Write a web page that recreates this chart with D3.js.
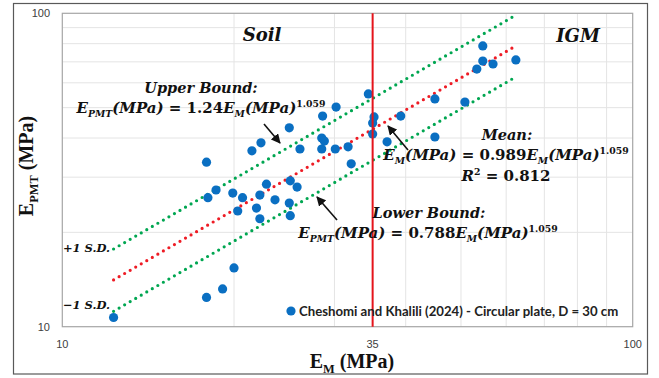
<!DOCTYPE html>
<html>
<head>
<meta charset="utf-8">
<script src="https://cdn.jsdelivr.net/npm/d3@7"></script>
<style>
  html, body { margin: 0; padding: 0; background: #fff; }
  svg { display: block; }
</style>
</head>
<body>
<div id="chart"></div>
<script>
// measured points: E_M (MPa) vs E_PMT (MPa)
const emValues = [12.3, 17.9, 19.1, 20.0, 17.9, 21.5, 22.3, 25.0, 26.1, 28.6,
  30.2, 34.4, 35.2, 35.0, 35.0, 28.5, 28.8, 28.5, 30.1, 31.7,
  32.1, 18.0, 18.6, 19.9, 20.7, 20.3, 22.2, 22.8, 23.6, 21.9,
  22.2, 25.1, 25.8, 25.0, 25.1, 54.6, 54.6, 56.9, 53.3, 62.4,
  45.0, 50.8, 37.1, 39.2, 45.0];
const epmtValues = [10.7, 12.4, 13.2, 15.4, 33.5, 36.4, 38.6, 43.1, 36.9, 47.0,
  50.2, 55.3, 46.7, 44.7, 41.2, 40.0, 39.1, 36.9, 36.9, 37.5,
  33.1, 25.8, 27.3, 26.7, 25.8, 23.4, 26.3, 28.5, 25.4, 23.9,
  22.1, 29.2, 27.9, 24.8, 22.6, 78.7, 70.4, 68.9, 66.4, 71.0,
  53.3, 52.1, 38.9, 47.0, 40.3];

// fit lines (power law => straight in log-log), end points
const fitNames = ["upper", "mean", "lower"];
const fitColors = ["#00a651", "#ee1c25", "#00a651"];
const fitX = [12.3, 62.4];
const fitStartY = [17.7, 14.1, 11.2];
const fitEndY = [98.7, 78.7, 62.7];

const boundaryX = 35;
const xTicks = [10, 35, 100];
const yTicks = [10, 100];
const gridVals = [20, 30, 40, 50, 60, 70, 80, 90];

const w = 659, h = 378;
const pLeft = 62.3, pRight = 632.7, pTop = 13.3, pBottom = 326.7;

const svg = d3.select("#chart").append("svg")
  .attr("width", w).attr("height", h);

const x = d3.scaleLog().domain([10, 100]).range([pLeft, pRight]);
const y = d3.scaleLog().domain([10, 100]).range([pBottom, pTop]);

// outer frame
svg.append("rect")
  .attr("x", 13.5).attr("y", 3.5).attr("width", 634).attr("height", 370.5)
  .attr("fill", "#fff").attr("stroke", "#595959").attr("stroke-width", 1.2);

// grid
const grid = svg.append("g");
grid.selectAll(".gx").data(gridVals).join("line")
  .attr("x1", d => x(d)).attr("x2", d => x(d))
  .attr("y1", pTop).attr("y2", pBottom)
  .attr("stroke", "#e4e4e4").attr("stroke-width", 1);
grid.selectAll(".gy").data(gridVals).join("line")
  .attr("y1", d => y(d)).attr("y2", d => y(d))
  .attr("x1", pLeft).attr("x2", pRight)
  .attr("stroke", "#e4e4e4").attr("stroke-width", 1);

svg.append("rect")
  .attr("x", pLeft).attr("y", pTop).attr("width", pRight - pLeft).attr("height", pBottom - pTop)
  .attr("fill", "none").attr("stroke", "#a6a6a6").attr("stroke-width", 1.2);

// tick labels
svg.selectAll(".xt").data(xTicks).join("text")
  .attr("x", d => x(d)).attr("y", 348)
  .attr("text-anchor", "middle")
  .attr("font-family", "'Liberation Sans', Arial, sans-serif")
  .attr("font-size", 11).attr("fill", "#404040")
  .text(d => d);
svg.selectAll(".yt").data(yTicks).join("text")
  .attr("x", 50).attr("y", d => y(d) + 4)
  .attr("text-anchor", "end")
  .attr("font-family", "'Liberation Sans', Arial, sans-serif")
  .attr("font-size", 11).attr("fill", "#404040")
  .text(d => d);

// fit lines, dotted
fitNames.forEach((n, i) => {
  svg.append("line")
    .attr("x1", x(fitX[0])).attr("y1", y(fitStartY[i]))
    .attr("x2", x(fitX[1])).attr("y2", y(Math.min(fitEndY[i], 100)))
    .attr("stroke", fitColors[i]).attr("stroke-width", 3.2)
    .attr("stroke-linecap", "round")
    .attr("stroke-dasharray", "0 6.4");
});

// points
svg.selectAll(".pt").data(emValues).join("circle")
  .attr("cx", d => x(d))
  .attr("cy", (d, i) => y(epmtValues[i]))
  .attr("r", 4.6)
  .attr("fill", "#0a6fc2");

// soil / IGM boundary
svg.append("line")
  .attr("x1", x(boundaryX)).attr("x2", x(boundaryX))
  .attr("y1", pTop).attr("y2", pBottom)
  .attr("stroke", "#e5141b").attr("stroke-width", 2);

// arrows
const defs = svg.append("defs");
defs.append("marker").attr("id", "ah")
  .attr("viewBox", "0 0 10 10").attr("refX", 9).attr("refY", 5)
  .attr("markerWidth", 6).attr("markerHeight", 6).attr("orient", "auto")
  .append("path").attr("d", "M0,0L10,5L0,10z").attr("fill", "#111");

const arrows = [
  [264, 124, 280, 143],
  [408, 150, 388, 126],
  [337, 220, 317, 197]
];
arrows.forEach(a => {
  svg.append("line")
    .attr("x1", a[0]).attr("y1", a[1]).attr("x2", a[2]).attr("y2", a[3])
    .attr("stroke", "#111").attr("stroke-width", 1.6)
    .attr("marker-end", "url(#ah)");
});

const serif = "'DejaVu Serif', 'Liberation Serif', serif";
const titleSerif = "'Liberation Serif', serif";

function label(xp, yp, txt, size, anchor, italic) {
  return svg.append("text")
    .attr("x", xp).attr("y", yp)
    .attr("text-anchor", anchor)
    .attr("font-family", serif)
    .attr("font-weight", "bold")
    .attr("font-style", italic ? "italic" : "normal")
    .attr("font-size", size).attr("fill", "#111")
    .text(txt);
}

// parts: [text, italic, "sub"|"sup"|null]
function mathText(xp, yp, parts, size, anchor, fam) {
  const t = svg.append("text")
    .attr("x", xp).attr("y", yp)
    .attr("text-anchor", anchor)
    .attr("font-family", fam || serif)
    .attr("font-weight", "bold")
    .attr("font-size", size).attr("fill", "#111");
  let shift = 0;
  parts.forEach(p => {
    const target = p[2] === "sub" ? size * 0.25 : p[2] === "sup" ? -size * 0.4 : 0;
    t.append("tspan")
      .attr("dy", target - shift)
      .attr("font-size", p[2] ? size * 0.62 : size)
      .style("font-style", p[1] ? "italic" : "normal")
      .text(p[0]);
    shift = target;
  });
  return t;
}

label(262, 41, "Soil", 18, "middle", true);
label(578, 42, "IGM", 18, "middle", true);

label(201, 93, "Upper Bound:", 14.5, "middle", true);
mathText(201, 113, [["E", 1], ["PMT", 1, "sub"], ["(MPa)", 1], [" = 1.24", 0], ["E", 1], ["M", 1, "sub"], ["(MPa)", 1], ["1.059", 0, "sup"]], 15, "middle");

label(507, 140, "Mean:", 14.5, "middle", true);
mathText(506, 160, [["E", 1], ["M", 1, "sub"], ["(MPa)", 1], [" = 0.989", 0], ["E", 1], ["M", 1, "sub"], ["(MPa)", 1], ["1.059", 0, "sup"]], 15, "middle");
mathText(506, 181, [["R", 1], ["2", 0, "sup"], [" = 0.812", 0]], 15, "middle");

label(429, 218, "Lower Bound:", 14.5, "middle", true);
mathText(428, 238, [["E", 1], ["PMT", 1, "sub"], ["(MPa)", 1], [" = 0.788", 0], ["E", 1], ["M", 1, "sub"], ["(MPa)", 1], ["1.059", 0, "sup"]], 15, "middle");

label(110, 252, "+1 S.D.", 11.5, "end", true);
label(110, 309, "\u22121 S.D.", 11.5, "end", true);

// legend
svg.append("circle").attr("cx", 291).attr("cy", 311).attr("r", 4.6).attr("fill", "#0a6fc2");
svg.append("text")
  .attr("x", 299).attr("y", 315.5)
  .attr("font-family", "Lato, 'Open Sans', sans-serif")
  .attr("font-weight", "bold")
  .attr("font-size", 13.2).attr("fill", "#222")
  .text("Cheshomi and Khalili (2024) - Circular plate, D = 30 cm");

// axis titles
mathText(352, 368, [["E", 0], ["M", 0, "sub"], [" (MPa)", 0]], 20, "middle", titleSerif);
mathText(0, 0, [["E", 0], ["PMT", 0, "sub"], [" (MPa)", 0]], 20, "middle", titleSerif)
  .attr("transform", "translate(33,166) rotate(-90)");
</script>
</body>
</html>
